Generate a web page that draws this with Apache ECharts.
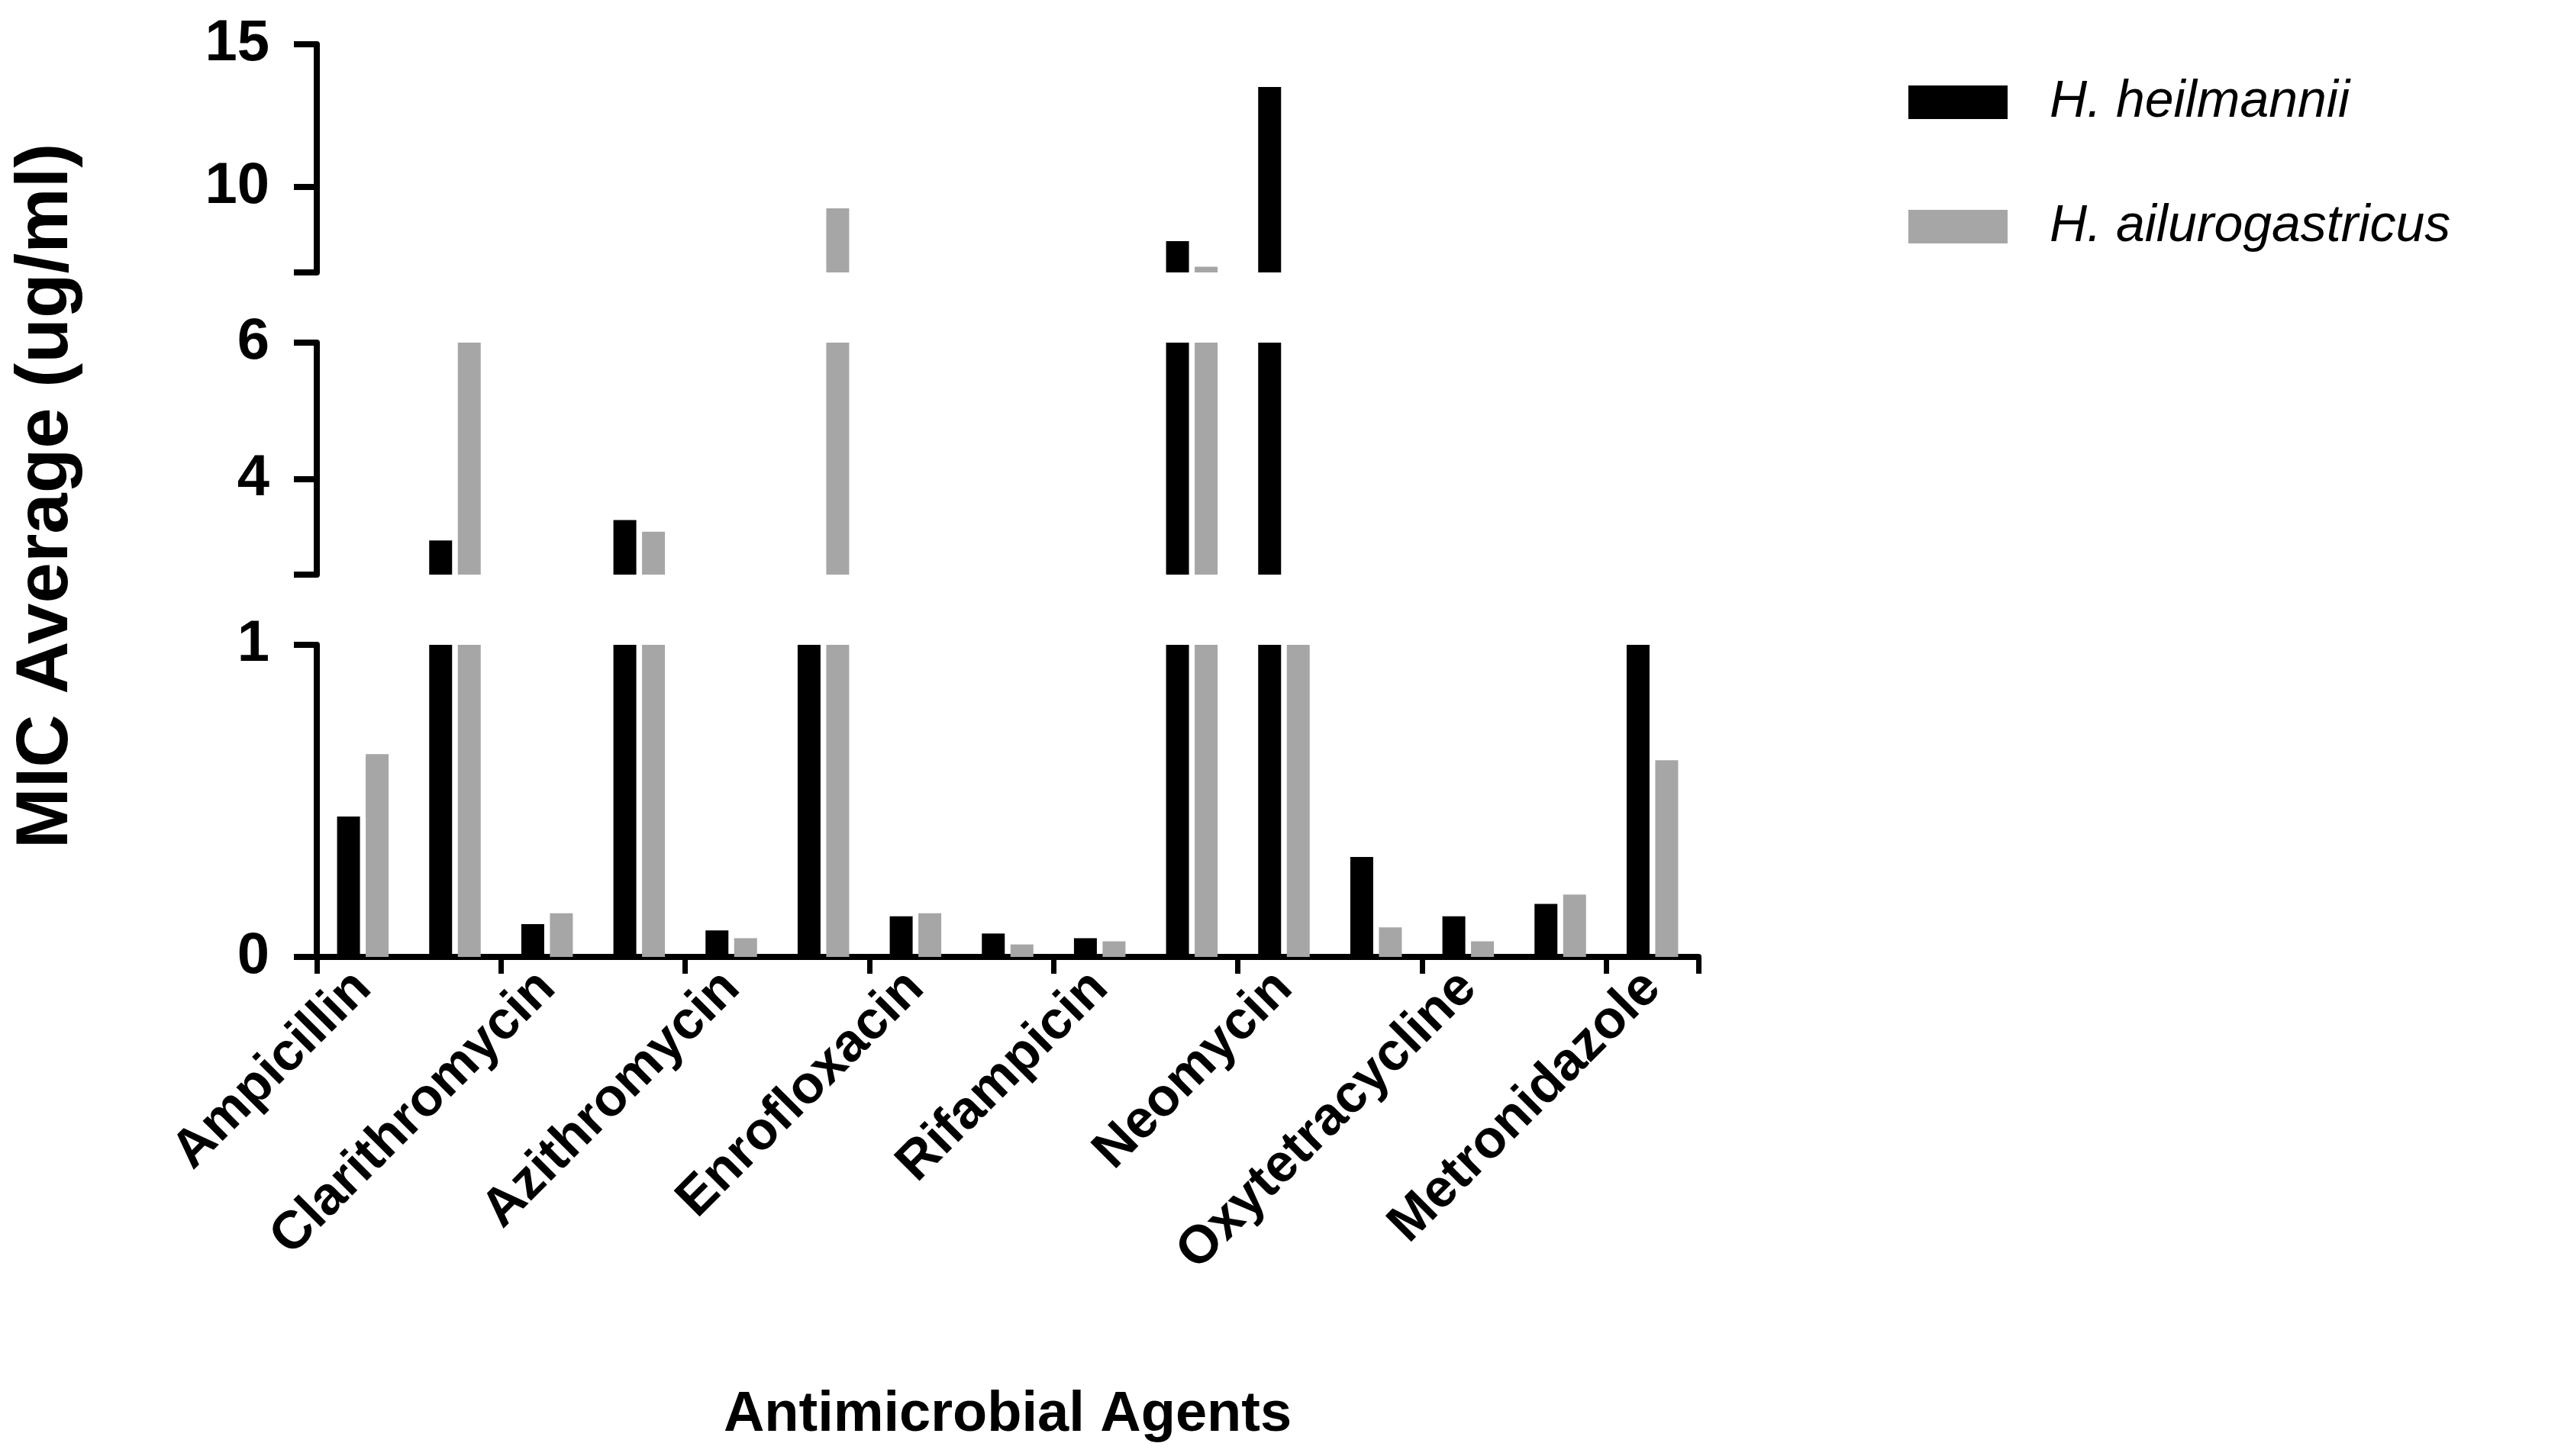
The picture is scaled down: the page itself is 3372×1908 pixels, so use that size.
<!DOCTYPE html>
<html><head><meta charset="utf-8">
<script src="https://cdn.jsdelivr.net/npm/echarts@6/dist/echarts.min.js"></script>
<style>html,body{margin:0;background:#fff}#main{width:3372px;height:1908px}</style>
</head><body><div id="main"></div>
<script>
const agents = ['Ampicillin','Ceftiofur','Clarithromycin','Tylosin','Azithromycin','Lincomycin','Enrofloxacin','Levofloxacin','Rifampicin','Gentamycin','Neomycin','Spectinomycin','Oxytetracycline','Doxycycline','Metronidazole'];
const heilmannii = [0.45, 3.1, 0.105, 3.4, 0.085, 1, 0.13, 0.075, 0.06, 8.1, 13.5, 0.32, 0.13, 0.17, 1];
const ailurogastricus = [0.65, 6, 0.14, 3.23, 0.06, 9.25, 0.14, 0.04, 0.05, 7.2, 1, 0.095, 0.05, 0.2, 0.63];
// broken axis segments: [min, max, labels]
const segments = [
  { min: 0, max: 1, labels: [0, 1], top: 845, bottom: 654 },
  { min: 2.6, max: 6, labels: [4, 6], top: 449, bottom: 1155 },
  { min: 7, max: 15, labels: [10, 15], top: 58, bottom: 1551 }
];
const font = 'Liberation Sans, Arial, sans-serif';
const grids = [], xAxes = [], yAxes = [], series = [];
segments.forEach((s, i) => {
  grids.push({ left: 415, right: 1147, top: s.top, bottom: s.bottom });
  xAxes.push({
    gridIndex: i, type: 'category', data: agents,
    axisLine: { show: i === 0, lineStyle: { color: '#000', width: 8 } },
    axisTick: { show: i === 0, length: 22, lineStyle: { color: '#000', width: 7 } },
    axisLabel: { show: i === 0, rotate: 45, color: '#000', fontWeight: 'bold', fontSize: 70, fontFamily: font, margin: 30 }
  });
  yAxes.push({
    gridIndex: i, type: 'value', min: s.min, max: s.max, splitLine: { show: false },
    axisLine: { show: true, lineStyle: { color: '#000', width: 8 } },
    axisTick: { show: true, length: 30, lineStyle: { color: '#000', width: 8 }, customValues: [s.min].concat(s.labels) },
    axisLabel: { color: '#000', fontWeight: 'bold', fontSize: 76, fontFamily: font, margin: 62, customValues: s.labels }
  });
  const seg = (arr) => arr.map(v => v > s.min ? v : null);
  series.push(
    { name: 'H. heilmannii', type: 'bar', xAxisIndex: i, yAxisIndex: i, data: seg(heilmannii), barWidth: 30, barGap: '25%', clip: true, itemStyle: { color: '#000' } },
    { name: 'H. ailurogastricus', type: 'bar', xAxisIndex: i, yAxisIndex: i, data: seg(ailurogastricus), barWidth: 30, clip: true, itemStyle: { color: '#a6a6a6' } }
  );
});
const option = {
  animation: false,
  grid: grids, xAxis: xAxes, yAxis: yAxes, series: series,
  legend: {
    left: 2495, top: 95, orient: 'vertical', itemWidth: 130, itemHeight: 44, itemGap: 95, icon: 'rect',
    data: ['H. heilmannii', 'H. ailurogastricus'],
    textStyle: { fontSize: 68, fontStyle: 'italic', fontFamily: font, color: '#000', padding: [0, 0, 0, 50] }
  },
  graphic: [
    { type: 'text', x: 62, y: 650, rotation: Math.PI / 2, style: { text: 'MIC Average (ug/ml)', fontSize: 96, fontWeight: 'bold', fontFamily: font, fill: '#000', align: 'center', verticalAlign: 'middle' } },
    { type: 'text', x: 1320, y: 1855, style: { text: 'Antimicrobial Agents', fontSize: 74, fontWeight: 'bold', fontFamily: font, fill: '#000', align: 'center', verticalAlign: 'middle' } }
  ]
};
echarts.init(document.getElementById('main')).setOption(option);
</script></body></html>
